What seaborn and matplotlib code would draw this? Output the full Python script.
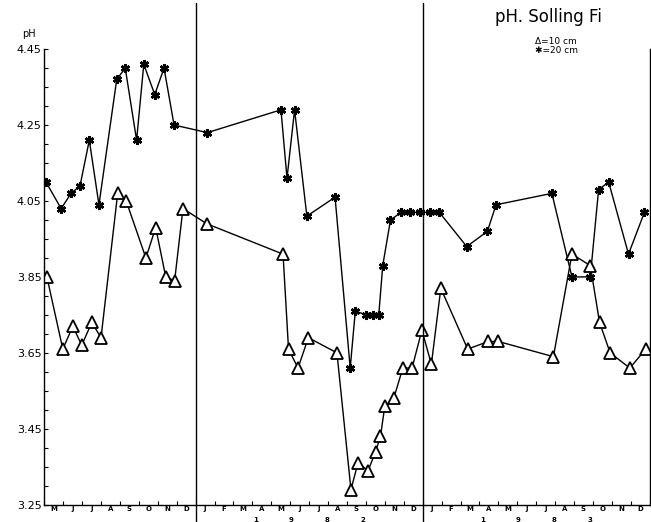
import numpy as np
import pandas as pd
import matplotlib
matplotlib.use("Agg")
import matplotlib.pyplot as plt
import matplotlib.transforms as mtransforms
import seaborn as sns

# months since 1 May 1981 (x) and pH values
months_20cm = [0.09, 0.89, 1.42, 1.89, 2.38, 2.89, 3.83, 4.28, 4.88, 5.26, 5.84, 6.33, 6.86,
               8.62, 12.51, 12.83, 13.23, 13.88, 15.37, 16.17, 16.44, 17.02, 17.37, 17.68,
               17.89, 18.30, 18.86, 19.33, 19.88, 20.37, 20.88, 22.33, 23.42, 23.88, 26.83,
               27.89, 28.86, 29.30, 29.83, 30.88, 31.72]
ph_20cm = [4.10, 4.03, 4.07, 4.09, 4.21, 4.04, 4.37, 4.40, 4.21, 4.41, 4.33, 4.40, 4.25,
           4.23, 4.29, 4.11, 4.29, 4.01, 4.06, 3.61, 3.76, 3.75, 3.75, 3.75,
           3.88, 4.00, 4.02, 4.02, 4.02, 4.02, 4.02, 3.93, 3.97, 4.04, 4.07,
           3.85, 3.85, 4.08, 4.10, 3.91, 4.02]

months_10cm = [0.14, 0.98, 1.51, 1.98, 2.51, 3.00, 3.88, 4.33, 5.37, 5.89, 6.42, 6.89, 7.33,
               8.59, 12.62, 12.91, 13.41, 13.96, 15.47, 16.21, 16.58, 17.12, 17.51, 17.77,
               18.00, 18.47, 18.95, 19.44, 19.96, 20.46, 20.96, 22.38, 23.47, 24.00, 26.91,
               27.89, 28.86, 29.35, 29.91, 30.95, 31.79]
ph_10cm = [3.85, 3.66, 3.72, 3.67, 3.73, 3.69, 4.07, 4.05, 3.90, 3.98, 3.85, 3.84, 4.03,
           3.99, 3.91, 3.66, 3.61, 3.69, 3.65, 3.29, 3.36, 3.34, 3.39, 3.43,
           3.51, 3.53, 3.61, 3.61, 3.71, 3.62, 3.82, 3.66, 3.68, 3.68, 3.64,
           3.91, 3.88, 3.73, 3.65, 3.61, 3.66]

month_letters = ["M", "J", "J", "A", "S", "O", "N", "D"] + ["J", "F", "M", "A", "M", "J",
                                                            "J", "A", "S", "O", "N", "D"] * 2
year_breaks = [8, 20]
year_labels = {14: "1982", 26: "1983"}
y_ticks = [3.25, 3.45, 3.65, 3.85, 4.05, 4.25, 4.45]

df10 = pd.DataFrame({"month": months_10cm, "pH": ph_10cm})
df20 = pd.DataFrame({"month": months_20cm, "pH": ph_20cm})

sns.set_style("white")
plt.rcParams["font.family"] = ["DejaVu Sans"]
plt.rcParams["text.color"] = "black"
plt.rcParams["xtick.color"] = "black"
plt.rcParams["ytick.color"] = "black"

fig = plt.figure(figsize=(6.51, 5.22), dpi=100)
ax = fig.add_axes([0.068, 0.033, 0.93, 0.873])

sns.lineplot(data=df20, x="month", y="pH", ax=ax, color="black", lw=1.0, sort=False,
             estimator=None, marker=(6, 2, 0), markersize=6.5, markeredgewidth=1.8,
             markeredgecolor="black")
sns.lineplot(data=df10, x="month", y="pH", ax=ax, color="black", lw=1.0, sort=False,
             estimator=None, marker="^", markersize=8, markerfacecolor="white",
             markeredgecolor="black", markeredgewidth=1.3)

for xb in year_breaks:
    ax.axvline(xb, ymin=-0.04, ymax=1.1, color="black", lw=1.0, clip_on=False)

ax.set_xlim(0, 32)
ax.set_ylim(3.25, 4.45)
ax.set_xlabel("")
ax.set_ylabel("")

ax.spines["top"].set_visible(False)
for side in ["left", "bottom", "right"]:
    ax.spines[side].set_color("black")
    ax.spines[side].set_linewidth(1.0)

ax.set_yticks(y_ticks)
ax.set_yticklabels([f"{v:.2f}" for v in y_ticks], fontsize=8)
ax.set_yticks(np.arange(3.25, 4.451, 0.05), minor=True)
ax.tick_params(axis="y", which="both", direction="in", length=3, width=0.8, left=True, pad=2)

ax.set_xticks(np.arange(0, 33))
ax.set_xticklabels([])
ax.set_xticks(np.arange(0.5, 32), minor=True)
ax.set_xticklabels(month_letters, minor=True, fontsize=5, fontweight="bold")
ax.tick_params(axis="x", which="major", direction="in", length=3, width=0.8, bottom=True)
ax.tick_params(axis="x", which="minor", length=0, pad=1)

trans = mtransforms.blended_transform_factory(ax.transData, ax.transAxes)
for center, year in year_labels.items():
    for i, digit in enumerate(year):
        ax.text(center - 2.85 + i * 1.9, -0.026, digit, transform=trans, fontsize=5,
                fontweight="bold", ha="center", va="top")

fig.text(0.034, 0.925, "pH", fontsize=7, ha="left", va="bottom")
fig.text(0.76, 0.968, "pH. Solling Fi", fontsize=12, ha="left", va="center")
fig.text(0.822, 0.912, "\u0394=10 cm\n\u2731=20 cm", fontsize=6.5, ha="left", va="center",
         linespacing=0.9)

fig.savefig("out.png", dpi=100)
